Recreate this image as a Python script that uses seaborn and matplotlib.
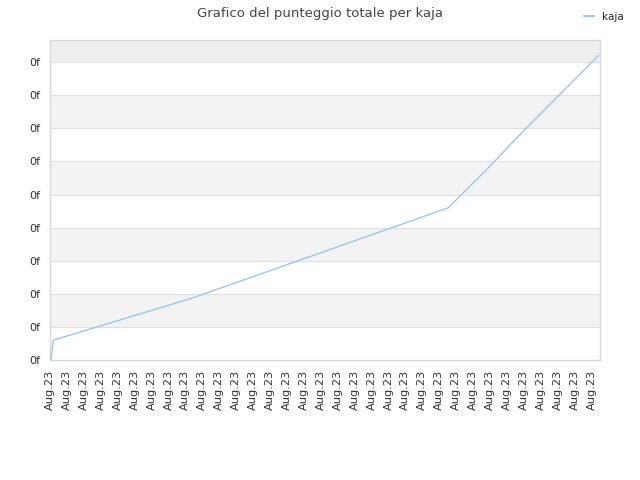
import pandas as pd
import matplotlib
matplotlib.use('Agg')
import matplotlib.pyplot as plt
import matplotlib.dates as mdates
from matplotlib.ticker import FuncFormatter, MultipleLocator
import seaborn as sns

# data (hours since start, total score)
start = pd.Timestamp('2023-08-01 00:00')
hours = [0.7, 2.3, 100.8, 282.4, 308.9, 329.5, 389.1]
scores = [0, 60, 187, 460, 572, 665, 921]
player = 'kaja'
title = 'Grafico del punteggio totale per kaja'

df = pd.DataFrame({
    'time': [start + pd.Timedelta(hours=h) for h in hours],
    'score': scores,
    'player': player,
})

sns.set_style('white')
plt.rcParams['font.family'] = ['DejaVu Sans']

fig = plt.figure(figsize=(6.4, 4.8), dpi=100)
ax = fig.add_axes([50 / 640, 120 / 480, 550 / 640, 320 / 480])

ymax = 967
# alternating bands
for lo in range(100, 1000, 200):
    color = '#eeeeee' if lo == 900 else '#f3f3f3'
    ax.axhspan(lo, min(lo + 100, ymax), color=color, zorder=0, lw=0)
for y in range(100, 1000, 100):
    ax.axhline(y, color='#e0e0e0', lw=0.8, zorder=1)

sns.lineplot(data=df, x='time', y='score', hue='player', palette=['#99c6f2'],
             lw=1, ax=ax, legend=False, zorder=3)

ax.set_xlim(start, start + pd.Timedelta(hours=32.5 * 12))
ax.set_ylim(0, ymax)
ax.xaxis.set_major_locator(mdates.HourLocator(byhour=[0, 12]))
ax.xaxis.set_major_formatter(mdates.DateFormatter('%b.%y'))
ax.yaxis.set_major_locator(MultipleLocator(100))
ax.yaxis.set_major_formatter(FuncFormatter(lambda v, p: '0f'))
ax.tick_params(axis='x', labelrotation=90, length=0, pad=7, labelsize=8.2, labelcolor='#333333')
ax.tick_params(axis='y', length=0, pad=7, labelsize=8, labelcolor='#333333')
ax.set_xlabel('')
ax.set_ylabel('')
for s in ax.spines.values():
    s.set_color('#d8d8d8')
    s.set_linewidth(1)

fig.suptitle(title, x=0.5, y=0.985, fontsize=9.5, color='#444444')
handle = plt.Line2D([], [], color='#99c6f2', lw=1.5)
fig.legend([handle], [player], loc='upper right', bbox_to_anchor=(0.99, 0.995),
           frameon=False, fontsize=7.5, handlelength=1.0, handletextpad=0.8)

fig.savefig('out.png', dpi=100)
